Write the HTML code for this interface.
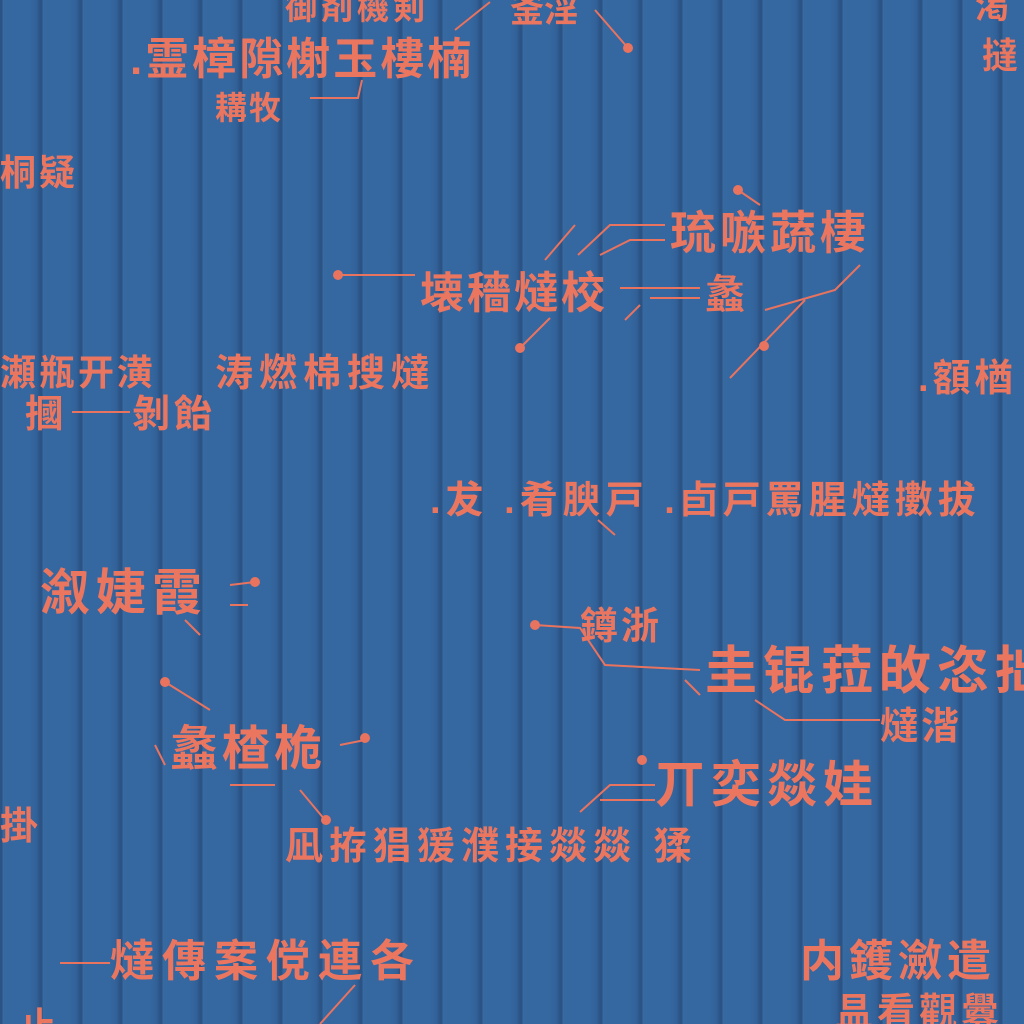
<!DOCTYPE html>
<html><head><meta charset="utf-8">
<style>
html,body{margin:0;padding:0}
#scene{position:relative;width:1024px;height:1024px;overflow:hidden;
background:#3567a0;
background-image:repeating-linear-gradient(90deg,rgba(25,45,80,0.35) 0px,rgba(25,45,80,0.35) 2px,rgba(70,120,170,0.15) 3px,rgba(0,0,0,0) 10px,rgba(0,0,0,0) 30px,rgba(20,50,90,0.12) 37px,rgba(25,45,80,0.35) 40px);
font-family:"Liberation Sans","Noto Sans CJK SC",sans-serif;}
.t{position:absolute;color:#ea7660;white-space:nowrap;line-height:1;font-weight:bold}
svg{position:absolute;left:0;top:0}
</style></head><body>
<div id="scene">
<svg width="1024" height="1024" stroke="#e8735f" stroke-width="2" fill="none">
<path d="M455,30 L490,2"/><path d="M595,10 L628,48"/><circle cx="628" cy="48" r="4" fill="#e8735f"/>
<path d="M310,98 L358,98 L362,80"/>
<path d="M340,275 L415,275"/><circle cx="338" cy="275" r="4" fill="#e8735f"/>
<path d="M545,260 L575,225"/><path d="M578,255 L610,225 L665,225"/><path d="M600,255 L630,240 L665,240"/>
<path d="M520,348 L550,318"/><circle cx="520" cy="348" r="4" fill="#e8735f"/>
<path d="M620,288 L700,288"/><path d="M650,298 L700,298"/><path d="M625,320 L640,305"/>
<path d="M738,190 L760,205"/><circle cx="738" cy="190" r="4" fill="#e8735f"/>
<path d="M765,310 L835,290 L860,265"/><path d="M730,378 L805,300"/><circle cx="764" cy="346" r="4" fill="#e8735f"/>
<path d="M72,412 L130,412"/>
<path d="M598,520 L615,535"/>
<path d="M230,585 L255,582"/><circle cx="255" cy="582" r="4" fill="#e8735f"/><path d="M230,605 L248,605"/><path d="M185,620 L200,635"/>
<path d="M535,625 L580,628 L605,665 L700,670"/><circle cx="535" cy="625" r="4" fill="#e8735f"/>
<path d="M165,682 L210,710"/><circle cx="165" cy="682" r="4" fill="#e8735f"/>
<path d="M755,700 L785,720 L880,720"/><path d="M685,680 L700,695"/>
<path d="M155,745 L165,765"/><path d="M340,745 L365,740"/><circle cx="365" cy="738" r="4" fill="#e8735f"/><path d="M230,785 L275,785"/><path d="M300,790 L325,820"/><circle cx="326" cy="820" r="4" fill="#e8735f"/>
<path d="M580,812 L610,785 L655,785"/><path d="M600,800 L655,800"/><circle cx="642" cy="760" r="4" fill="#e8735f"/>
<path d="M60,963 L110,963"/><path d="M320,1024 L355,985"/>
</svg>
<div class="t" style="left:285px;top:-8px;font-size:32px;letter-spacing:4px">御剤機剣</div>
<div class="t" style="left:510px;top:-6px;font-size:34px">釜淫</div>
<div class="t" style="left:975px;top:-10px;font-size:34px">渇</div>
<div class="t" style="left:982px;top:38px;font-size:36px">撻</div>
<div class="t" style="left:130px;top:38px;font-size:44px;letter-spacing:3px">.霊樟隙榭玉樓楠</div>
<div class="t" style="left:215px;top:92px;font-size:32px;letter-spacing:2px">耩牧</div>
<div class="t" style="left:0px;top:155px;font-size:36px;letter-spacing:3px">桐疑</div>
<div class="t" style="left:670px;top:210px;font-size:46px;letter-spacing:4px">琉嗾蔬棲</div>
<div class="t" style="left:420px;top:272px;font-size:44px;letter-spacing:3px">壊穡燵校</div>
<div class="t" style="left:705px;top:275px;font-size:40px">蠡</div>
<div class="t" style="left:0px;top:355px;font-size:36px;letter-spacing:3px">瀬瓶开潢</div>
<div class="t" style="left:215px;top:355px;font-size:38px;letter-spacing:6px">涛燃棉搜燵</div>
<div class="t" style="left:918px;top:360px;font-size:38px;letter-spacing:4px">.額楢</div>
<div class="t" style="left:25px;top:396px;font-size:38px">摑</div>
<div class="t" style="left:132px;top:396px;font-size:38px;letter-spacing:4px">剝飴</div>
<div class="t" style="left:430px;top:482px;font-size:38px;letter-spacing:5px">.犮 .肴腴戸 .卣戸罵腥燵擻拔</div>
<div class="t" style="left:40px;top:568px;font-size:50px;letter-spacing:6px">溆婕霞</div>
<div class="t" style="left:580px;top:608px;font-size:38px;letter-spacing:3px">鐏浙</div>
<div class="t" style="left:705px;top:646px;font-size:52px;letter-spacing:6px">圭锟菈敀恣拙</div>
<div class="t" style="left:880px;top:708px;font-size:38px;letter-spacing:3px">燵湝</div>
<div class="t" style="left:170px;top:726px;font-size:48px;letter-spacing:4px">蠡楂桅</div>
<div class="t" style="left:655px;top:760px;font-size:50px;letter-spacing:6px">丌奕燚娃</div>
<div class="t" style="left:0px;top:808px;font-size:38px">掛</div>
<div class="t" style="left:285px;top:828px;font-size:38px;letter-spacing:6px">凪拵猖猨濮接燚燚 猱</div>
<div class="t" style="left:110px;top:940px;font-size:44px;letter-spacing:8px">燵傳案傥連各</div>
<div class="t" style="left:800px;top:940px;font-size:44px;letter-spacing:5px">内鑊瀲遣</div>
<div class="t" style="left:835px;top:994px;font-size:38px;letter-spacing:4px">昷看觀釁</div>
<div class="t" style="left:20px;top:1008px;font-size:36px">止</div>
</div>
</body></html>
